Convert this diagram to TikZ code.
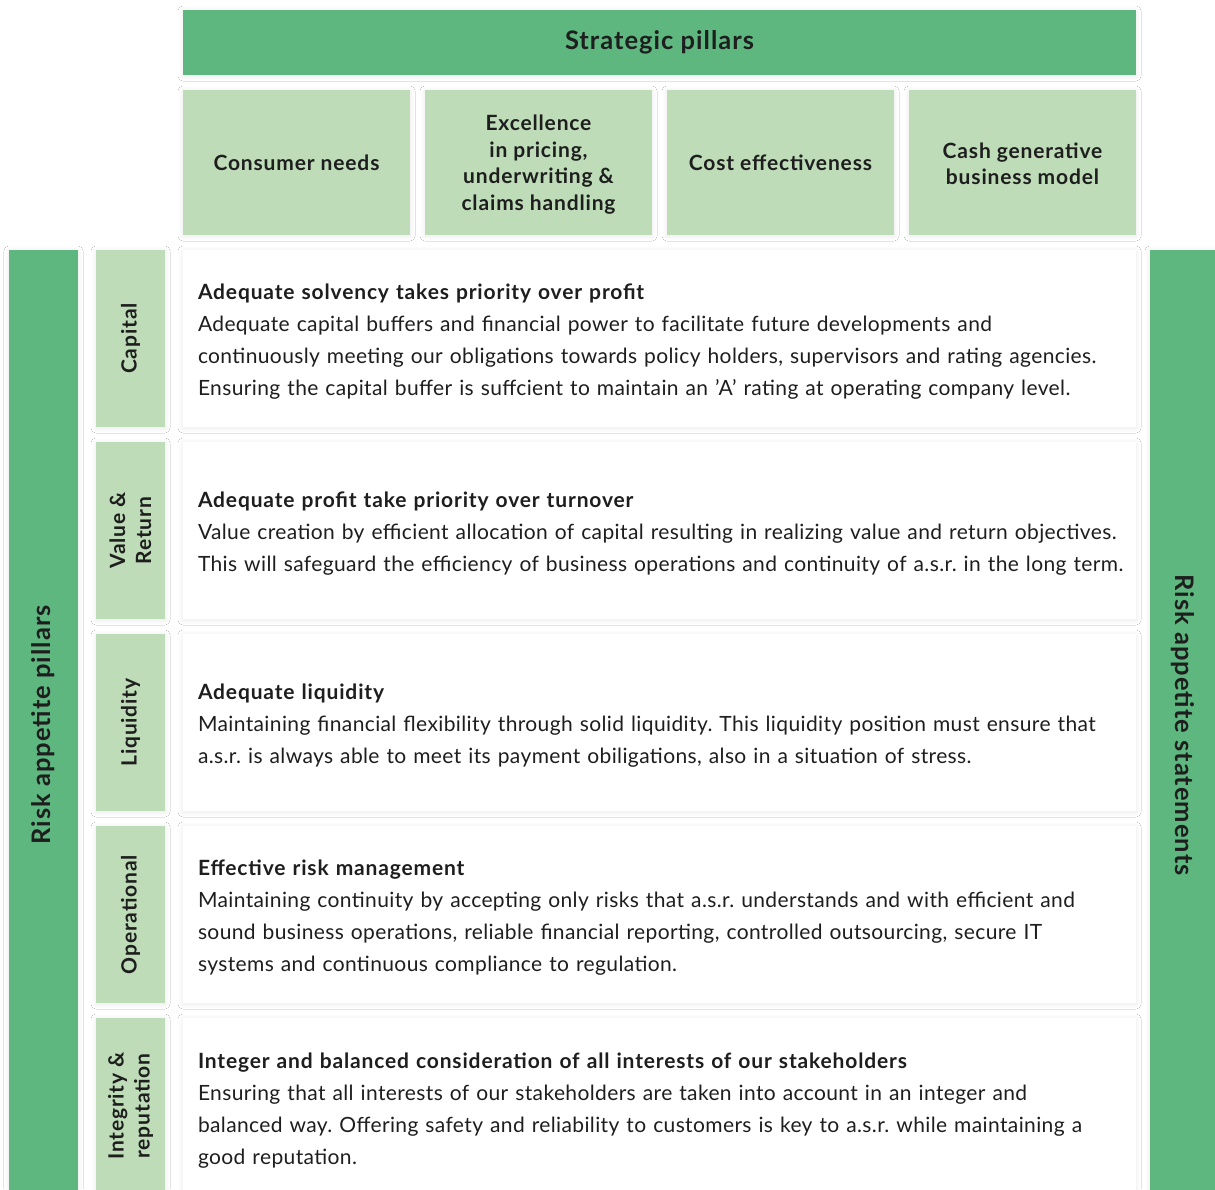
\documentclass[tikz,border=0pt]{standalone}
\usepackage{fontspec}
\setmainfont{Lato}[LetterSpace=1.8]
\newfontfamily\widefont{Lato}[LetterSpace=4]
\usepackage{tikz}
\usetikzlibrary{positioning, shadows.blur}

\definecolor{darkgreen}{HTML}{5DB77F}
\definecolor{lightgreen}{HTML}{BDDCB7}
\definecolor{inktext}{HTML}{1E1E1E}

\tikzset{
  boxshadow/.style={blur shadow={shadow xshift=0pt, shadow yshift=-1pt, shadow blur radius=5pt, shadow blur steps=20, shadow opacity=9}},
  bartext/.style={text=inktext, font=\widefont\fontsize{25.5}{30}\selectfont\bfseries},
  darkbar/.style={fill=darkgreen, draw=none, boxshadow, inner sep=0pt, outer sep=0pt, bartext},
  topbox/.style={fill=lightgreen, draw=none, boxshadow, minimum width=227, minimum height=145, inner sep=0pt, outer sep=0pt, anchor=north west, align=center, text=inktext, font=\widefont\fontsize{21}{26.7}\selectfont\bfseries},
  sidebox/.style={fill=lightgreen, draw=none, boxshadow, minimum width=69, minimum height=177, inner sep=0pt, outer sep=0pt, anchor=north west},
  sidetext/.style={rotate=90, align=center, text=inktext, font=\widefont\fontsize{21}{26}\selectfont\bfseries},
  stmtbox/.style={fill=white, draw=none, boxshadow, minimum height=177, text width=923, inner xsep=15, inner ysep=0, outer sep=0pt, anchor=north west, align=left, text=inktext, font=\fontsize{21}{32}\selectfont},
}
\newcommand{\stmthead}[1]{\rule{0pt}{21pt}{\widefont\bfseries #1}}

\begin{document}
\frenchspacing
\begin{tikzpicture}[x=1pt, y=-1pt]
  \useasboundingbox[fill=white] (0,0) rectangle (1215,1189);

  % strategic pillars
  \node[darkbar, minimum width=953, minimum height=65, anchor=north west] (strat) at (183,10) {Strategic pillars};
  \node[topbox] (consumer) at (183,90) {Consumer needs};
  \node[topbox] (excellence) at (425,90) {\rule{0pt}{20pt}Excellence\\in pricing,\\underwriting \&\\claims handling};
  \node[topbox] (cost) at (667,90) {Cost effectiveness};
  \node[topbox] (cash) at (909,90) {\rule{0pt}{18pt}Cash generative\\business model};

  % risk appetite bars
  \node[darkbar, minimum width=69, minimum height=950, anchor=north west] (pillars) at (9,250) {};
  \node[rotate=90, bartext] (pillarstext) at (pillars.center) {Risk appetite pillars};
  \node[darkbar, minimum width=65, minimum height=950, anchor=north west] (statements) at (1150,250) {};
  \node[rotate=-90, bartext] (statementstext) at (statements.center) {Risk appetite statements};

  % capital
  \node[sidebox] (capital) at (96,250) {};
  \node[sidetext] at (capital.center) {Capital};
  \node[stmtbox] (capitalstmt) at (183,250) {\stmthead{Adequate solvency takes priority over profit}\\
    Adequate capital buffers and financial power to facilitate future developments and\\
    continuously meeting our obligations towards policy holders, supervisors and rating agencies.\\
    Ensuring the capital buffer is suffcient to maintain an ’A’ rating at operating company level.};

  % value and return
  \node[sidebox] (value) at (96,442) {};
  \node[sidetext] at (value.center) {Value \&\\Return};
  \node[stmtbox] (valuestmt) at (183,442) {\stmthead{Adequate profit take priority over turnover}\\
    Value creation by efficient allocation of capital resulting in realizing value and return objectives.\\
    This will safeguard the efficiency of business operations and continuity of a.s.r. in the long~term.};

  % liquidity
  \node[sidebox] (liquidity) at (96,634) {};
  \node[sidetext] at (liquidity.center) {Liquidity};
  \node[stmtbox] (liquiditystmt) at (183,634) {\stmthead{Adequate liquidity}\\
    Maintaining financial flexibility through solid liquidity. This liquidity position must ensure that\\
    a.s.r. is always able to meet its payment obiligations, also in a situation of stress.};

  % operational
  \node[sidebox] (operational) at (96,826) {};
  \node[sidetext] at (operational.center) {Operational};
  \node[stmtbox] (operationalstmt) at (183,826) {\stmthead{Effective risk management}\\
    Maintaining continuity by accepting only risks that a.s.r. understands and with efficient and\\
    sound business operations, reliable financial reporting, controlled outsourcing, secure IT\\
    systems and continuous compliance to regulation.};

  % integrity
  \node[sidebox, minimum height=182] (integrity) at (96,1018) {};
  \node[sidetext] at (130.5,1106) {Integrity \&\\reputation};
  \node[stmtbox, minimum height=180] (integritystmt) at (183,1018) {\stmthead{Integer and balanced consideration of all interests of our stakeholders}\\
    Ensuring that all interests of our stakeholders are taken into account in an integer and\\
    balanced way. Offering safety and reliability to customers is key to a.s.r. while maintaining a\\
    good reputation.};
\end{tikzpicture}
\end{document}
